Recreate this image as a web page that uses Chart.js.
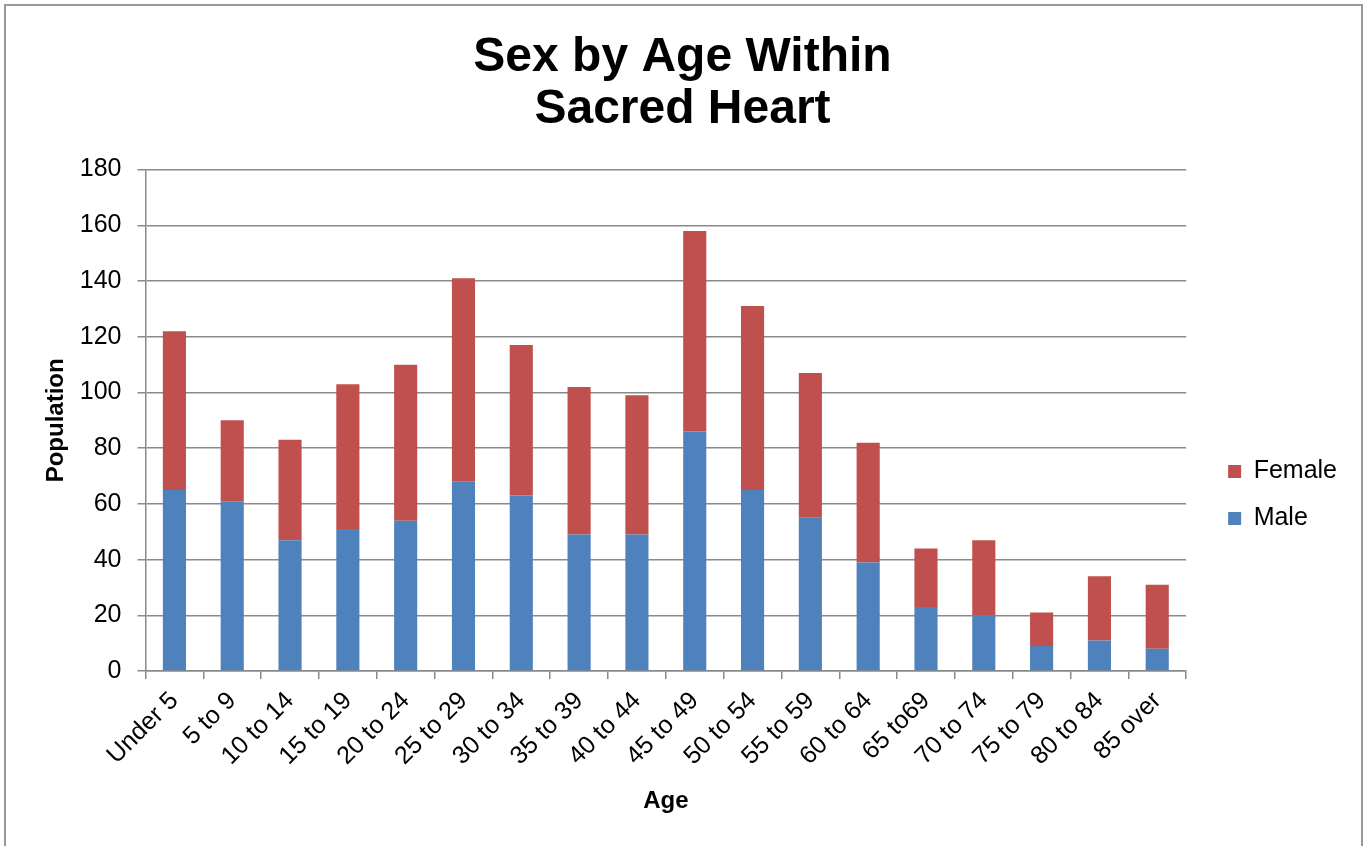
<!DOCTYPE html>
<html>
<head>
<meta charset="utf-8">
<script src="https://cdn.jsdelivr.net/npm/chart.js@4"></script>
<style>
  body { margin: 0; background: #fff; overflow: hidden; }
  #wrap { position: relative; width: 1364px; height: 846px; overflow: hidden; }
  #frame { position: absolute; left: 4px; top: 4px; width: 1359px; height: 900px;
           border: 2px solid #999; box-sizing: border-box; pointer-events: none; }
</style>
</head>
<body>
<div id="wrap">
  <canvas id="chart-age" width="1364" height="846"></canvas>
  <div id="frame"></div>
</div>
<script>
var ageGroups = ['Under 5', '5 to 9', '10 to 14', '15 to 19', '20 to 24', '25 to 29',
  '30 to 34', '35 to 39', '40 to 44', '45 to 49', '50 to 54', '55 to 59',
  '60 to 64', '65 to69', '70 to 74', '75 to 79', '80 to 84', '85 over'];
var male   = [65, 61, 47, 51, 54, 68, 63, 49, 49, 86, 65, 55, 39, 23, 20, 9, 11, 8];
var female = [57, 29, 36, 52, 56, 73, 54, 53, 50, 72, 66, 52, 43, 21, 27, 12, 23, 23];

var gridGray = '#8a8a8a';
var font = 'Arial, "Liberation Sans", sans-serif';

// nudge the legend into the spot Excel put it
var legendShift = { x: 20, y: 87 };
var moveLegend = {
    id: 'moveLegend',
    afterLayout: function(chart) {
        var lg = chart.legend;
        lg.left += legendShift.x; lg.right += legendShift.x;
        lg.top += legendShift.y; lg.bottom += legendShift.y;
    }
};

var config = {
    type: 'bar',
    data: {
        labels: ageGroups,
        datasets: [{
            label: 'Male',
            data: male,
            backgroundColor: '#4F81BD',
            barPercentage: 0.4,
            categoryPercentage: 1
        }, {
            label: 'Female',
            data: female,
            backgroundColor: '#C0504D',
            barPercentage: 0.4,
            categoryPercentage: 1
        }]
    },
    options: {
        responsive: false,
        animation: false,
        layout: { padding: { left: 38, right: 37, top: 0, bottom: 30 } },
        plugins: {
            title: {
                display: true,
                text: ['Sex by Age Within', 'Sacred Heart'],
                color: '#000',
                font: { family: font, size: 48, weight: 'bold', lineHeight: 1.1 },
                padding: { top: 31, bottom: 33 }
            },
            legend: {
                position: 'right',
                reverse: true,
                labels: {
                    color: '#000',
                    boxWidth: 13,
                    boxHeight: 13,
                    padding: 22,
                    font: { family: font, size: 25 }
                }
            },
            tooltip: { enabled: false }
        },
        scales: {
            x: {
                stacked: true,
                grid: { display: true, drawOnChartArea: false, offset: true, tickLength: 8, color: gridGray, lineWidth: 1.5 },
                border: { color: gridGray, width: 1.5 },
                ticks: { color: '#000', minRotation: 45, maxRotation: 45, padding: 7, font: { family: font, size: 25 } },
                title: { display: true, text: 'Age', color: '#000', font: { family: font, size: 24, weight: 'bold' }, padding: { top: 9, bottom: 0 } }
            },
            y: {
                stacked: true,
                min: 0,
                max: 180,
                ticks: { stepSize: 20, color: '#000', padding: 16, font: { family: font, size: 25 } },
                grid: { color: gridGray, lineWidth: 1.5, tickLength: 8 },
                border: { color: gridGray, width: 1.5 },
                title: { display: true, text: 'Population', color: '#000', font: { family: font, size: 24, weight: 'bold' }, padding: { bottom: -7 } }
            }
        }
    },
    plugins: [moveLegend]
};

var ctx = document.getElementById('chart-age').getContext('2d');
new Chart(ctx, config);
</script>
</body>
</html>
